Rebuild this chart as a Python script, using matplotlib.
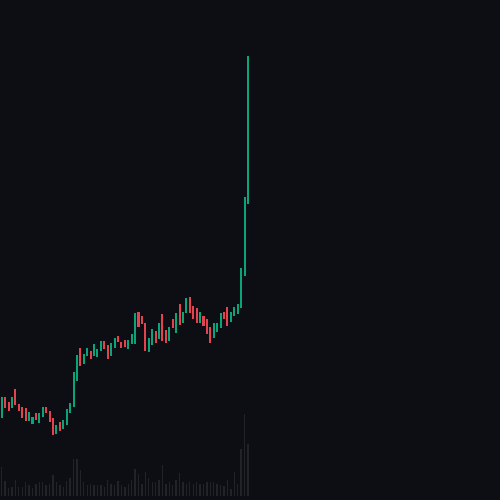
import matplotlib
matplotlib.use('Agg')
from matplotlib import pyplot as plt
import numpy as np

# precios de apertura y cierre por vela
opens = [8.2, 10.3, 9.8, 9.2, 11.1, 9.6, 9.3, 9.2, 7.9, 7.6,
         8.7, 7.7, 8.3, 9.3, 8.9, 8.2, 6.6, 7.8, 7.1, 7.5,
         8.7, 9.3, 11.9, 15.2, 13.6, 14.4, 14.9, 14.4, 14.3, 14.9,
         15.9, 15.5, 14.4, 15.2, 16.4, 15.8, 16.0, 15.1, 15.6, 15.6,
         18.8, 18.4, 17.7, 14.8, 15.5, 16.9, 16.1, 18.6, 17.0, 15.9,
         18.1, 16.7, 19.6, 17.7, 18.7, 20.3, 19.4, 19.2, 17.7, 18.4,
         18.1, 17.3, 16.2, 16.8, 17.2, 18.8, 19.3, 17.8, 18.4, 18.6,
         19.2, 22.4, 29.6]
closes = [10.3, 9.2, 8.9, 10.3, 9.5, 8.9, 8.2, 7.9, 8.8, 8.3,
          8.0, 8.7, 9.3, 8.7, 7.8, 6.5, 7.5, 6.9, 8.0, 9.1,
          9.7, 12.8, 14.5, 13.4, 14.6, 15.2, 14.1, 15.6, 15.1, 15.9,
          15.1, 14.1, 15.7, 16.2, 15.8, 15.2, 15.3, 16.0, 16.6, 18.7,
          17.3, 17.6, 14.9, 16.2, 17.1, 15.7, 17.7, 15.9, 15.7, 17.3,
          17.2, 18.7, 17.5, 18.8, 20.2, 18.7, 18.1, 17.7, 18.8, 17.4,
          16.6, 15.7, 17.7, 17.7, 18.7, 18.1, 17.4, 18.8, 19.3, 19.6,
          23.2, 30.3, 44.4]
volumes = [29, 15, 8, 9, 16, 9, 9, 14, 11, 8,
           12, 14, 14, 11, 12, 21, 14, 11, 9, 15,
           18, 37, 37, 26, 14, 11, 12, 11, 11, 11,
           9, 16, 12, 11, 15, 11, 9, 12, 16, 27,
           22, 12, 24, 18, 14, 14, 16, 31, 12, 14,
           11, 16, 23, 14, 12, 14, 12, 14, 12, 12,
           14, 14, 14, 12, 11, 10, 16, 7, 24, 12,
           47, 82, 52]

fondo = '#0d0e14'
verde = '#0ba37a'
rojo = '#e3424f'

opens = np.array(opens)
closes = np.array(closes)
x = np.arange(len(opens))
colores = [verde if c >= o else rojo for o, c in zip(opens, closes)]

fig = plt.figure(figsize=(5, 5), dpi=100, facecolor=fondo)
ax = fig.add_axes([0, 0, 1, 1])
ax.set_facecolor(fondo)

# volumen en un eje gemelo
ax2 = ax.twinx()
ax2.bar(x, volumes, width=0.4, color='#222329', zorder=1)
ax2.set_ylim(-4, 496)
ax2.axis('off')

# cuerpos de las velas
ax.bar(x, np.abs(closes - opens), bottom=np.minimum(opens, closes),
       width=0.6, color=colores, zorder=3)
ax.set_xlim(-0.5, 145.7)
ax.set_ylim(0, 50)
ax.axis('off')
ax.set_zorder(ax2.get_zorder() + 1)
ax.patch.set_visible(False)

plt.savefig('out.png', dpi=100, facecolor=fondo)
